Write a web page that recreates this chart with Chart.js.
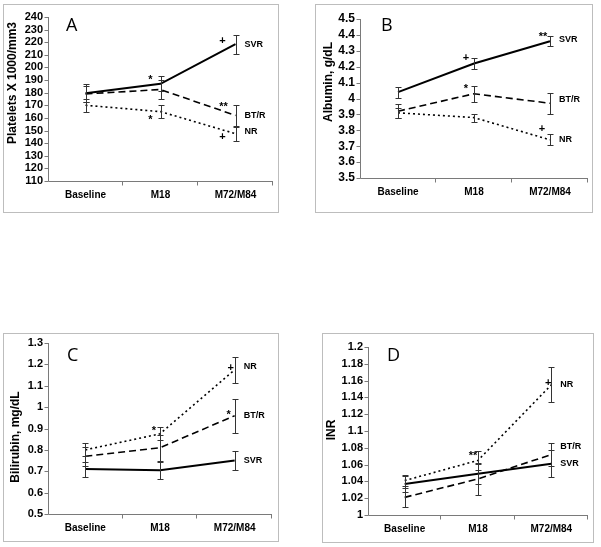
<!DOCTYPE html>
<html>
<head>
<meta charset="utf-8">
<title>Platelets, albumin, bilirubin, INR</title>
<script src="https://cdn.jsdelivr.net/npm/chart.js@4.4.1/dist/chart.umd.min.js"></script>
<style>
  body { margin: 0; background: #fff; width: 601px; height: 547px; position: relative; overflow: hidden; }
  .panel { position: absolute; border: 1px solid #bdbdbd; }
  .panel canvas { display: block; }
</style>
</head>
<body>
<div class="panel" style="left:3px;top:4px;"><canvas id="chartA" width="274" height="207"></canvas></div>
<div class="panel" style="left:315px;top:4px;"><canvas id="chartB" width="276" height="207"></canvas></div>
<div class="panel" style="left:3px;top:333px;"><canvas id="chartC" width="274" height="207"></canvas></div>
<div class="panel" style="left:322px;top:333px;"><canvas id="chartD" width="270" height="208"></canvas></div>

<script>
// 공통 카테고리
const categories = ['Baseline', 'M18', 'M72/M84'];
const groups = ['SVR', 'BT/R', 'NR'];

// A - 혈소판
const plateletSVR = [179.5, 187, 218.5];
const plateletBTR = [179, 182.5, 162];
const plateletNR = [170, 165, 147.5];
const plateletSVRErr = [7, 6, 7.5];
const plateletBTRErr = [6, 7.5, 8.5];
const plateletNRErr = [5, 5, 5.5];
const plateletTicks = [110, 120, 130, 140, 150, 160, 170, 180, 190, 200, 210, 220, 230, 240];

// B - 알부민
const albuminSVR = [4.04, 4.22, 4.36];
const albuminBTR = [3.92, 4.03, 3.97];
const albuminNR = [3.91, 3.88, 3.74];
const albuminSVRErr = [0.035, 0.035, 0.03];
const albuminBTRErr = [0.045, 0.05, 0.065];
const albuminNRErr = [0.03, 0.025, 0.035];
const albuminTicks = [3.5, 3.6, 3.7, 3.8, 3.9, 4, 4.1, 4.2, 4.3, 4.4, 4.5];

// C - 빌리루빈
const bilirubinSVR = [0.71, 0.705, 0.75];
const bilirubinBTR = [0.77, 0.81, 0.96];
const bilirubinNR = [0.80, 0.875, 1.175];
const bilirubinSVRErr = [0.035, 0.04, 0.045];
const bilirubinBTRErr = [0.045, 0.06, 0.08];
const bilirubinNRErr = [0.03, 0.03, 0.06];
const bilirubinTicks = [0.5, 0.6, 0.7, 0.8, 0.9, 1, 1.1, 1.2, 1.3];

// D - INR
const inrSVR = [1.037, 1.049, 1.061];
const inrBTR = [1.021, 1.043, 1.072];
const inrNR = [1.041, 1.065, 1.155];
const inrSVRErr = [0.01, 0.012, 0.016];
const inrBTRErr = [0.011, 0.019, 0.014];
const inrNRErr = [0.007, 0.011, 0.021];
const inrTicks = [1, 1.02, 1.04, 1.06, 1.08, 1.1, 1.12, 1.14, 1.16, 1.18, 1.2];

// 유의성 표시: [그룹, 카테고리, 기호]
const plateletMarks = [[0, 1, '*'], [2, 1, '*'], [1, 2, '**'], [0, 2, '+'], [2, 2, '+']];
const albuminMarks = [[0, 1, '+'], [0, 2, '**'], [1, 1, '*'], [2, 2, '+']];
const bilirubinMarks = [[2, 1, '*'], [2, 2, '+'], [1, 2, '*']];
const inrMarks = [[2, 1, '**'], [2, 2, '+']];

const FONT = '"Liberation Sans", Arial, sans-serif';
const AXIS_GREY = '#7a7a7a';
const CLEAR = 'rgba(0,0,0,0)';

/**
 * 축선, 오차막대, 그룹 라벨, 유의성 기호, 패널 문자, y축 제목
 */
const overlayPlugin = {
    id: 'overlay',
    afterDatasetsDraw(chart) {
        const o = chart.options.plugins.overlay;
        const ctx = chart.ctx;
        const xScale = chart.scales.x;
        const yScale = chart.scales.y;
        const area = chart.chartArea;
        ctx.save();

        // 축선과 눈금 (스케일 위치 기준)
        ctx.strokeStyle = AXIS_GREY;
        ctx.lineWidth = 1;
        ctx.setLineDash([]);
        const axisY = Math.round(area.bottom) + 0.5;
        const axisX = Math.round(area.left) + 0.5;
        ctx.beginPath();
        ctx.moveTo(axisX, Math.round(area.top));
        ctx.lineTo(axisX, axisY);
        ctx.lineTo(Math.round(area.right), axisY);
        const n = chart.data.labels.length;
        for (let k = 1; k <= n; k++) {
            const px = Math.round(area.left + k * (area.right - area.left) / n) - 0.5;
            ctx.moveTo(px, axisY);
            ctx.lineTo(px, axisY + 4);
        }
        yScale.ticks.forEach((t, i) => {
            const py = Math.round(yScale.getPixelForTick(i)) + 0.5;
            ctx.moveTo(axisX - 4, py);
            ctx.lineTo(axisX, py);
        });
        ctx.stroke();

        // 오차막대
        ctx.strokeStyle = '#333';
        chart.data.datasets.forEach((ds, i) => {
            const meta = chart.getDatasetMeta(i);
            ds.errors.forEach((e, j) => {
                const x = Math.round(meta.data[j].x) + 0.5;
                const top = Math.round(yScale.getPixelForValue(ds.data[j] + e)) + 0.5;
                const bot = Math.round(yScale.getPixelForValue(ds.data[j] - e)) + 0.5;
                ctx.beginPath();
                ctx.moveTo(x, top); ctx.lineTo(x, bot);
                ctx.moveTo(x - 3, top); ctx.lineTo(x + 3, top);
                ctx.moveTo(x - 3, bot); ctx.lineTo(x + 3, bot);
                ctx.stroke();
            });
        });

        // 그룹 라벨
        ctx.fillStyle = '#000';
        ctx.font = 'bold 9px ' + FONT;
        ctx.textAlign = 'left';
        ctx.textBaseline = 'middle';
        chart.data.datasets.forEach((ds, i) => {
            const meta = chart.getDatasetMeta(i);
            const last = meta.data[meta.data.length - 1];
            ctx.fillText(ds.label, last.x + 9, last.y + (o.labelShift[i] || 0));
        });

        // 유의성 기호
        ctx.font = 'bold 11px ' + FONT;
        ctx.textAlign = 'center';
        o.marks.forEach((m, k) => {
            const pt = chart.getDatasetMeta(m[0]).data[m[1]];
            const off = o.markOffsets[k];
            const adj = m[2].indexOf('*') >= 0 ? 2.5 : 0;
            ctx.fillText(m[2], pt.x + off[0], pt.y + off[1] + adj);
        });

        // 패널 문자
        ctx.font = '18px "Open Sans", ' + FONT;
        ctx.textAlign = 'left';
        ctx.textBaseline = 'alphabetic';
        ctx.fillText(o.letter, area.left + o.letterAt[0], area.top + o.letterAt[1]);

        // y축 제목
        ctx.font = 'bold 12px ' + FONT;
        ctx.textAlign = 'center';
        ctx.textBaseline = 'middle';
        ctx.translate(o.titleAt[0], o.titleAt[1]);
        ctx.rotate(-Math.PI / 2);
        ctx.fillText(o.yTitle, 0, 0);
        ctx.restore();
    }
};

function formatTick(v) {
    return String(parseFloat(Number(v).toFixed(2)));
}

function makeDatasets(svr, btr, nr, svrErr, btrErr, nrErr) {
    return [
        { label: groups[0], data: svr, errors: svrErr, borderColor: '#000', borderWidth: 2 },
        { label: groups[1], data: btr, errors: btrErr, borderColor: '#000', borderWidth: 1.6, borderDash: [7, 4] },
        { label: groups[2], data: nr, errors: nrErr, borderColor: '#000', borderWidth: 1.6, borderDash: [2, 3] }
    ];
}

function makePanel(id, p) {
    const ctx = document.getElementById(id);
    return new Chart(ctx, {
        type: 'line',
        data: { labels: categories, datasets: p.datasets },
        options: {
            responsive: false,
            animation: false,
            elements: { point: { radius: 0, hoverRadius: 0 }, line: { tension: 0, fill: false } },
            layout: { padding: { top: p.pad[0], right: p.pad[1], bottom: 0, left: 0 } },
            plugins: {
                legend: { display: false },
                tooltip: { enabled: false },
                overlay: {
                    letter: p.letter,
                    letterAt: p.letterAt,
                    yTitle: p.yTitle,
                    titleAt: p.titleAt,
                    marks: p.marks,
                    markOffsets: p.markOffsets,
                    labelShift: p.labelShift
                }
            },
            scales: {
                x: {
                    type: 'category',
                    offset: true,
                    afterFit: (s) => { s.height = p.xHeight; },
                    grid: { offset: true, drawOnChartArea: false, drawTicks: true, tickLength: 4, color: CLEAR },
                    border: { display: true, color: CLEAR },
                    ticks: { color: '#000', padding: 4, maxRotation: 0, font: { family: FONT, size: 10, weight: 'bold' } }
                },
                y: {
                    min: p.ticks[0],
                    max: p.ticks[p.ticks.length - 1],
                    afterBuildTicks: (s) => { s.ticks = p.ticks.map(v => ({ value: v })); },
                    afterFit: (s) => { s.width = p.yWidth; },
                    grid: { drawOnChartArea: false, drawTicks: true, tickLength: 4, color: CLEAR },
                    border: { display: true, color: CLEAR },
                    ticks: {
                        color: '#000', padding: 1, autoSkip: false,
                        font: { family: FONT, size: p.tickSize, weight: 'bold' },
                        callback: (v) => formatTick(v)
                    }
                }
            }
        },
        plugins: [overlayPlugin]
    });
}

makePanel('chartA', {
    datasets: makeDatasets(plateletSVR, plateletBTR, plateletNR, plateletSVRErr, plateletBTRErr, plateletNRErr),
    ticks: plateletTicks, tickSize: 11,
    pad: [12, 5], yWidth: 44, xHeight: 31,
    letter: 'A', letterAt: [18, 14],
    yTitle: 'Platelets X 1000/mm3', titleAt: [9, 78],
    marks: plateletMarks,
    markOffsets: [[-10, -6], [-10, 6], [-12, -11], [-13, -3], [-13, 3]],
    labelShift: [0, 0, -2]
});

makePanel('chartB', {
    datasets: makeDatasets(albuminSVR, albuminBTR, albuminNR, albuminSVRErr, albuminBTRErr, albuminNRErr),
    ticks: albuminTicks, tickSize: 12,
    pad: [14, 4], yWidth: 44, xHeight: 34,
    letter: 'B', letterAt: [21, 12],
    yTitle: 'Albumin, g/dL', titleAt: [13, 77],
    marks: albuminMarks,
    markOffsets: [[-8, -6], [-7, -7], [-8, -7], [-8, -11]],
    labelShift: [-2, -4, 0]
});

makePanel('chartC', {
    datasets: makeDatasets(bilirubinSVR, bilirubinBTR, bilirubinNR, bilirubinSVRErr, bilirubinBTRErr, bilirubinNRErr),
    ticks: bilirubinTicks, tickSize: 11,
    pad: [9, 6], yWidth: 44, xHeight: 27,
    letter: 'C', letterAt: [19, 18],
    yTitle: 'Bilirubin, mg/dL', titleAt: [12, 103],
    marks: bilirubinMarks,
    markOffsets: [[-6, -5], [-4, -2], [-6, -3]],
    labelShift: [0, 0, -3]
});

makePanel('chartD', {
    datasets: makeDatasets(inrSVR, inrBTR, inrNR, inrSVRErr, inrBTRErr, inrNRErr),
    ticks: inrTicks, tickSize: 11,
    pad: [13, 5], yWidth: 45, xHeight: 27,
    letter: 'D', letterAt: [19, 14],
    yTitle: 'INR', titleAt: [9, 96],
    marks: inrMarks,
    markOffsets: [[-5, -7], [-3, -2]],
    labelShift: [0, -8, 0]
});
</script>
</body>
</html>
